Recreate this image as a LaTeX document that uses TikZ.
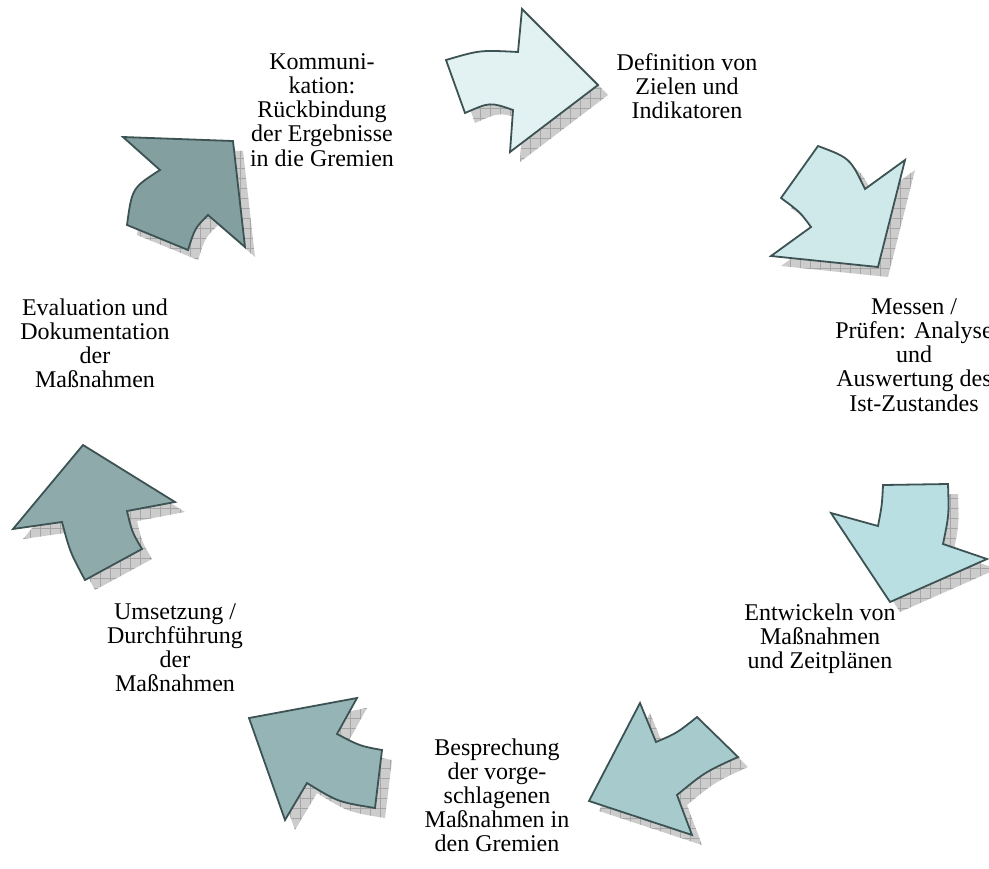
\documentclass[tikz,border=0pt]{standalone}
\usepackage{fontspec}
\setmainfont{Liberation Serif}
\usepackage{tikz}
\usetikzlibrary{patterns.meta}
\definecolor{rand}{HTML}{3D5253}
\definecolor{pfeilA}{HTML}{E2F2F3}
\definecolor{pfeilB}{HTML}{CFE8EA}
\definecolor{pfeilC}{HTML}{B9DFE3}
\definecolor{pfeilD}{HTML}{A7CBCD}
\definecolor{pfeilE}{HTML}{95B4B5}
\definecolor{pfeilF}{HTML}{8FAAAB}
\definecolor{pfeilG}{HTML}{839FA0}
\tikzset{
pfeilrand/.style={draw=rand, line width=0.9pt, line join=miter}
        }
\tikzset{
schatten/.style = {fill=gray!40},
schattengitter/.style = {pattern={Hatch[angle=0,distance=5pt,line width=0.4pt]}, pattern color=gray!70}
         }
\tikzset{
beschriftung/.style = {align=center, inner sep=0pt, anchor=north,
               font=\fontsize{12pt}{12.1pt}\selectfont}
        }
\newcommand{\pfeil}[2]{
    \begin{scope}[shift={(10,10)}]
        \path[schatten] #2;
        \path[schattengitter] #2;
    \end{scope}
    \path[pfeilrand, fill=#1] #2;
}

\begin{document}
\begin{tikzpicture}[x=0.5pt,y=-0.5pt]
        \useasboundingbox (0,0) rectangle (989,868);
        \clip (0,0) rectangle (989,868);

        % pfeile im kreis
        \pfeil{pfeilA}{(446,60) .. controls (480,50) .. (518,52) -- (522,9) -- (598,85) -- (510,152)
            -- (513,110) .. controls (490,102) .. (465,113) -- cycle}
        \pfeil{pfeilB}{(818,146) .. controls (850,158) .. (865,189) -- (905,160) -- (878,267) -- (771,256)
            -- (811,227) .. controls (800,212) .. (781,198) -- cycle}
        \pfeil{pfeilC}{(883,485) -- (948,484) .. controls (949,515) .. (943,544) -- (987,559) -- (890,602)
            -- (831,513) -- (878,526) .. controls (882,505) .. (883,485) -- cycle}
        \pfeil{pfeilD}{(640,703) -- (656,742) .. controls (677,733) .. (697,717) -- (738,757)
            .. controls (705,772) .. (677,795) -- (692,835) -- (589,801) -- cycle}
        \pfeil{pfeilE}{(249,718) -- (357,698) -- (337,734) .. controls (360,746) .. (382,750) -- (375,808)
            .. controls (338,802) .. (307,783) -- (285,820) -- cycle}
        \pfeil{pfeilF}{(83,445) -- (175,502) -- (127,511) .. controls (132,532) .. (142,549) -- (85,580)
            .. controls (70,552) .. (62,522) -- (13,529) -- cycle}
        \pfeil{pfeilG}{(123,137) -- (233,141) -- (245,247) -- (208,215) .. controls (195,228) .. (188,250)
            -- (127,225) .. controls (132,188) .. (160,170) -- cycle}

        % texte
        \node[beschriftung] (kommunikation) at (322,53) {Kommuni-\\kation:\\Rückbindung\\der Ergebnisse\\in die Gremien};
        \node[beschriftung] (definition) at (687,53) {Definition von\\Zielen und\\Indikatoren};
        \node[beschriftung] (messen) at (914,298) {Messen /\\Prüfen: Analyse\\und\\Auswertung des\\Ist-Zustandes};
        \node[beschriftung] (entwickeln) at (820,603) {Entwickeln von\\Maßnahmen\\und Zeitplänen};
        \node[beschriftung] (besprechung) at (497,738) {Besprechung\\der vorge-\\schlagenen\\Maßnahmen in\\den Gremien};
        \node[beschriftung] (umsetzung) at (175,603) {Umsetzung /\\Durchführung\\der\\Maßnahmen};
        \node[beschriftung] (evaluation) at (95,298) {Evaluation und\\Dokumentation\\der\\Maßnahmen};
    \end{tikzpicture}
\end{document}
